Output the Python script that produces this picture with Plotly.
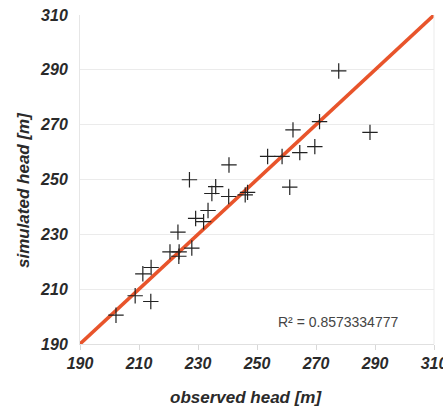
import plotly.graph_objects as go

observed = [202.2, 208.7, 211.3, 214.1, 214.0, 220.5, 223.2, 223.6, 223.5, 227.9,
            227.1, 229.2, 231.9, 233.4, 234.7, 236.0, 240.5, 240.4, 246.0, 246.8,
            253.6, 258.5, 261.1, 262.2, 264.5, 269.6, 271.2, 277.7, 288.3]
simulated = [200.5, 207.6, 215.6, 217.9, 205.5, 223.6, 230.8, 223.6, 222.0, 225.0,
             249.9, 235.8, 234.6, 238.7, 244.9, 247.4, 255.3, 243.8, 244.4, 245.3,
             258.4, 258.4, 247.2, 268.1, 259.8, 262.0, 271.1, 289.6, 267.2]
line_x = [190, 310]
line_y = [190, 310]
ticks = [190, 210, 230, 250, 270, 290, 310]
r2_text = "R² = 0.8573334777"

fig = go.Figure()
fig.add_trace(go.Scatter(x=line_x, y=line_y, mode="lines",
                         line=dict(color="#e8542b", width=3.5), hoverinfo="skip"))
fig.add_trace(go.Scatter(x=observed, y=simulated, mode="markers",
                         marker=dict(symbol="cross-thin", size=11,
                                     line=dict(color="#222222", width=1.2))))

tickfont = dict(family="Liberation Sans, Arial", size=16, weight="bold",
                style="italic", color="#2a2a2a")
fig.update_xaxes(range=[190, 310], tickvals=ticks, showgrid=False,
                 showline=True, linecolor="#e0e0e0", linewidth=1,
                 ticks="outside", ticklen=5, tickcolor="#d8d8d8",
                 tickfont=tickfont, zeroline=False, mirror=False,
                 ticklabeloverflow="allow", automargin=False)
fig.update_yaxes(range=[190, 310], tickvals=ticks, showgrid=True,
                 gridcolor="#ebebeb", gridwidth=1,
                 showline=True, linecolor="#e6e6e6", linewidth=1,
                 ticks="", tickfont=tickfont, zeroline=False, ticklabelstandoff=8,
                 ticklabeloverflow="allow", automargin=False)

titlefont = dict(family="Liberation Sans, Arial", size=17, weight="bold",
                 style="italic", color="#2a2a2a")
fig.update_layout(
    width=443, height=409,
    margin=dict(l=80, r=9, t=15, b=65, autoexpand=False),
    plot_bgcolor="white", paper_bgcolor="white",
    showlegend=False,
    shapes=[dict(type="line", xref="paper", yref="paper", x0=1, x1=1, y0=0, y1=1,
                 line=dict(color="#ebebeb", width=1))],
    annotations=[
        dict(text="observed head [m]", xref="paper", yref="paper", x=0.469, y=0,
             xanchor="center", yanchor="middle", yshift=-53, showarrow=False,
             font=titlefont),
        dict(text="simulated head [m]", xref="paper", yref="paper", x=0, y=0.468,
             xanchor="center", yanchor="middle", xshift=-57, textangle=-90,
             showarrow=False, font=titlefont),
        dict(text=r2_text, xref="x", yref="y", x=277.3, y=198.1,
             xanchor="center", yanchor="middle", showarrow=False,
             font=dict(family="Liberation Sans, Arial", size=14, color="#444444")),
    ],
)
fig.write_html("out.html")
